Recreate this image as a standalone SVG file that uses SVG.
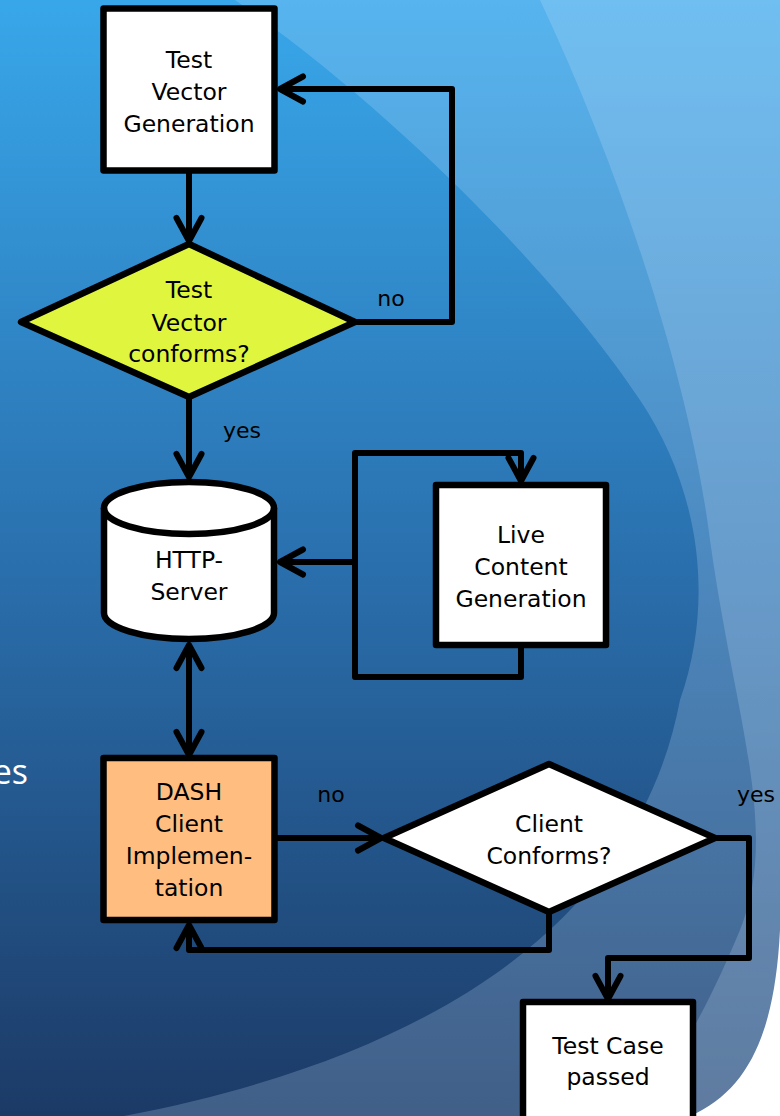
<svg xmlns="http://www.w3.org/2000/svg" width="780" height="1116" viewBox="0 0 780 1116">
<defs>
<linearGradient id="bg" x1="0" y1="0" x2="0" y2="1">
<stop offset="0" stop-color="#38a7ea"/>
<stop offset="0.5" stop-color="#2a70ae"/>
<stop offset="1" stop-color="#1c3a66"/>
</linearGradient>
<marker id="ah" markerUnits="userSpaceOnUse" viewBox="-30 -20 40 40" markerWidth="40" markerHeight="40" refX="0" refY="0" orient="auto-start-reverse" overflow="visible">
<path d="M-23,-12.5 L0,0 L-23,12.5" fill="none" stroke="#000" stroke-width="6" stroke-linecap="round" stroke-linejoin="round"/>
</marker>
<style>
.shape{stroke:#000;stroke-width:6.5;stroke-linejoin:round}
.t{font-family:"DejaVu Sans",sans-serif;font-size:23.5px;fill:#000;text-anchor:middle}
.lbl{font-family:"DejaVu Sans",sans-serif;font-size:22px;fill:#000;text-anchor:middle}
.c{fill:none;stroke:#000;stroke-width:6;stroke-linejoin:round;marker-end:url(#ah)}
</style>
</defs>
<g id="background">
<rect x="0" y="0" width="780" height="1116" fill="url(#bg)"/>
<path d="M235,0 C400,115 560,280 640,400 C700,490 715,600 680,700 C650,860 520,1040 124,1116 L780,1116 L780,0 Z" fill="#c8e4ff" fill-opacity="0.22"/>
<path d="M540,0 C620,170 690,380 710,540 C735,720 780,830 740,930 C715,990 690,1040 640,1116 L780,1116 L780,0 Z" fill="#d8ecff" fill-opacity="0.2"/>
<path d="M780,930 C775,1030 750,1090 690,1116 L780,1116 Z" fill="#ffffff"/>
<text x="28" y="784" font-family="Open Sans, DejaVu Sans, sans-serif" font-size="34" fill="#ffffff" text-anchor="end">es</text>
</g>
<g id="connectors">
<path class="c" d="M189,173 L189,241"/>
<path class="c" d="M356,322 L452,322 L452,89 L280,89"/>
<path class="c" d="M189,398 L189,477"/>
<path class="c" d="M521,645 L521,677 L355,677 L355,453 L521,453 L521,481"/>
<path class="c" d="M355,562 L280,562"/>
<path class="c" style="marker-start:url(#ah)" d="M189,645 L189,755"/>
<path class="c" d="M276,838 L381,838"/>
<path class="c" d="M549,913 L549,950 L189,950 L189,925"/>
<path class="c" d="M716,838 L749,838 L749,958 L608,958 L608,999"/>
<text class="lbl" x="391" y="306">no</text>
<text class="lbl" x="242" y="438">yes</text>
<text class="lbl" x="331" y="802">no</text>
<text class="lbl" x="756" y="802">yes</text>
</g>
<g id="test-vector-generation">
<rect class="shape" x="103.5" y="8.5" width="171" height="162" fill="#ffffff"/>
<text class="t" x="189" y="68">Test</text>
<text class="t" x="189" y="100">Vector</text>
<text class="t" x="189" y="132">Generation</text>
</g>
<g id="test-vector-conforms">
<polygon class="shape" points="189,244 355,322 189,397 21,322" fill="#dff53e"/>
<text class="t" x="189" y="298">Test</text>
<text class="t" x="189" y="331">Vector</text>
<text class="t" x="189" y="362">conforms?</text>
</g>
<g id="http-server">
<path class="shape" d="M104,508 A85,26 0 0 1 274,508 L274,613 A85,26 0 0 1 104,613 Z" fill="#ffffff"/>
<path class="shape" d="M104,508 A85,26 0 0 0 274,508" fill="none"/>
<text class="t" x="189" y="568">HTTP-</text>
<text class="t" x="189" y="600">Server</text>
</g>
<g id="live-content-generation">
<rect class="shape" x="436" y="485" width="170" height="160" fill="#ffffff"/>
<text class="t" x="521" y="543">Live</text>
<text class="t" x="521" y="575">Content</text>
<text class="t" x="521" y="607">Generation</text>
</g>
<g id="dash-client">
<rect class="shape" x="103.5" y="758" width="171" height="162" fill="#ffbe80"/>
<text class="t" x="189" y="800">DASH</text>
<text class="t" x="189" y="832">Client</text>
<text class="t" x="189" y="864">Implemen-</text>
<text class="t" x="189" y="896">tation</text>
</g>
<g id="client-conforms">
<polygon class="shape" points="549,764 715,838 549,912 384,838" fill="#ffffff"/>
<text class="t" x="549" y="832">Client</text>
<text class="t" x="549" y="864">Conforms?</text>
</g>
<g id="test-case-passed">
<rect class="shape" x="523" y="1002" width="170" height="140" fill="#ffffff"/>
<text class="t" x="608" y="1054">Test Case</text>
<text class="t" x="608" y="1085">passed</text>
</g>
</svg>
